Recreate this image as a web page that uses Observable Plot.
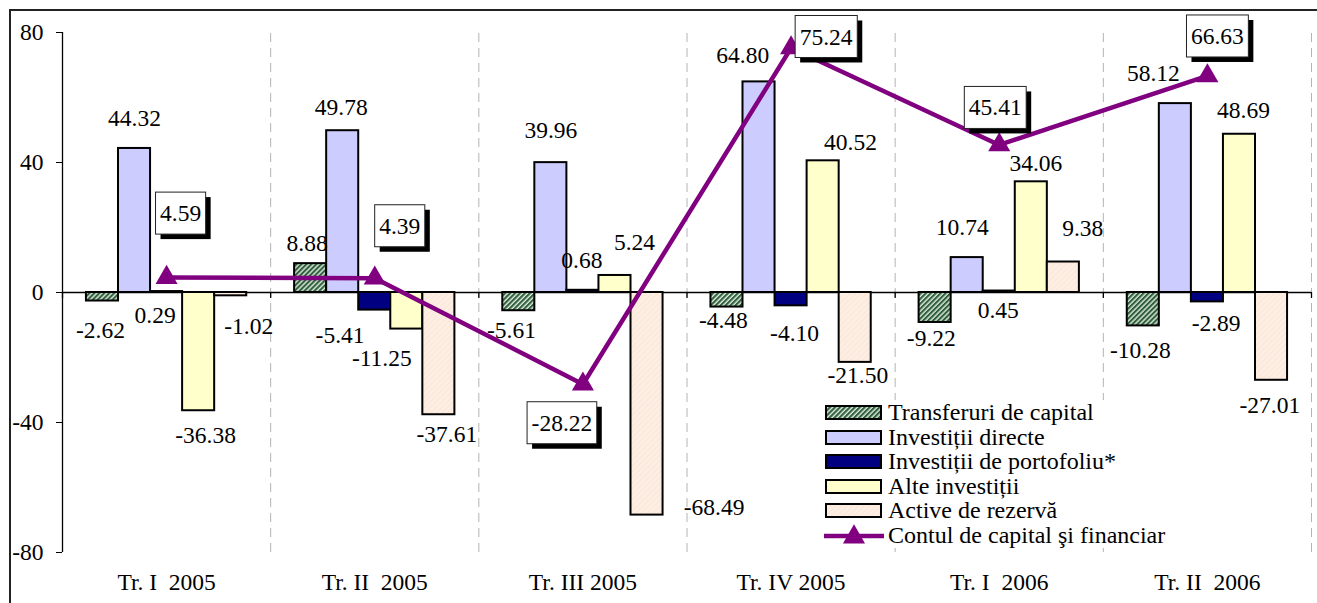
<!DOCTYPE html>
<html>
<head>
<meta charset="utf-8">
<script src="https://cdn.jsdelivr.net/npm/d3@7"></script>
<script src="https://cdn.jsdelivr.net/npm/@observablehq/plot@0.6"></script>
<style>
  body { margin: 0; background: #fff; }
  #wrap { position: relative; width: 1317px; height: 603px; overflow: hidden;
          font-family: "Liberation Serif", "Times New Roman", serif; }
  #frame { position: absolute; left: 9px; top: 9px; width: 2000px; height: 2000px;
           border-left: 2px solid #222; border-top: 2px solid #222; box-sizing: border-box; }
  #chart { position: absolute; left: 0; top: 0; }
  #chart text { font-family: "Liberation Serif", "Times New Roman", serif !important;
                font-variant: normal !important; font-variant-numeric: normal !important; }
  #legend { position: absolute; left: 818px; top: 400px; width: 356px; height: 148px; background: #fff; }
  .row { position: absolute; left: 0; height: 24px; width: 356px; }
  .row svg { position: absolute; top: 0; }
  .row span { position: absolute; left: 70px; top: -3px; font-size: 24px; line-height: 28px; white-space: nowrap; color: #000; }
</style>
</head>
<body>
<svg width="0" height="0" style="position:absolute">
  <defs>
    <pattern id="hatchGreen" width="3.5" height="3.5" patternUnits="userSpaceOnUse" patternTransform="rotate(45)">
      <rect width="3.5" height="3.5" fill="#dfeadf"/>
      <rect width="2.1" height="3.5" fill="#2f5f3b"/>
    </pattern>
    <pattern id="hatchPeach" width="4" height="4" patternUnits="userSpaceOnUse" patternTransform="rotate(45)">
      <rect width="4" height="4" fill="#fdeee3"/>
      <rect width="1" height="4" fill="#fbe6d8"/>
    </pattern>
  </defs>
</svg>
<div id="wrap">
  <div id="frame"></div>
  <div id="chart"></div>
  <div id="legend"></div>
</div>
<script>
// ---------- data ----------
const categories = ["Tr. I\u00a0\u00a02005", "Tr. II\u00a0\u00a02005", "Tr. III 2005", "Tr. IV 2005", "Tr. I\u00a0\u00a02006", "Tr. II\u00a0\u00a02006"];
const seriesNames = ["Transferuri de capital", "Investiții directe", "Investiții de portofoliu*", "Alte investiții", "Active de rezervă"];
const transferuri = [-2.62, 8.88, -5.61, -4.48, -9.22, -10.28];
const directe = [44.32, 49.78, 39.96, 64.80, 10.74, 58.12];
const portofoliu = [0.29, -5.41, 0.68, -4.10, 0.45, -2.89];
const alte = [-36.38, -11.25, 5.24, 40.52, 34.06, 48.69];
const rezerva = [-1.02, -37.61, -68.49, -21.50, 9.38, -27.01];
const lineName = "Contul de capital şi financiar";
const contul = [4.59, 4.39, -28.22, 75.24, 45.41, 66.63];
const yTicks = [-80, -40, 0, 40, 80];

// ---------- style ----------
const fills = ["url(#hatchGreen)", "#ccccff", "#000080", "#ffffcc", "url(#hatchPeach)"];
const purple = "#800080";
const font = "'Liberation Serif', 'Times New Roman', serif";
const fs = 23.5;
// label nudges in px, relative to the bar end (series x quarter)
const labelNudge = [
  [[-2, 29.5], [-3.5, -20.6], [-7.4, 20], [-3.6, 13.4], [-3.8, 16], [-3, 24.6]],
  [[0, -30], [-1.5, -23], [0, -32], [-16.3, -26.4], [-5, -30.4], [-22, -30]],
  [[-11.5, 24], [-34.7, 25.4], [-1, -30], [3.5, 27.7], [-1, 19.5], [8.7, 21.6]],
  [[7, 25], [-25, 29], [19.5, -33.3], [27.3, -18.6], [4.6, -18.3], [4, -23.8]],
  [[18, 31], [8, 20], [67, -8], [2.6, 13], [19.4, -33.5], [-1.7, 25]]
];
const boxNudge = [[14, -64], [25, -52], [-21, 39], [35, -11], [-4, -37], [10, -39.5]];

// ---------- build ----------
const series = [transferuri, directe, portofoliu, alte, rezerva];
const groupInset = 0.115;
const barW = (1 - 2 * groupInset) / series.length;
const rows = [];
series.forEach((vals, k) => vals.forEach((v, i) => rows.push({
  k, i, v,
  x1: i + groupInset + k * barW,
  x2: i + groupInset + (k + 1) * barW
})));
const linePts = contul.map((v, i) => ({ x: i + 0.5, v, i }));
const fmt = v => v.toFixed(2);

const marks = [
  Plot.ruleX(d3.range(1, categories.length + 1), { y1: -80, y2: 80, stroke: "#b4b4b4", strokeDasharray: "9,6" }),
  Plot.ruleY([0], { stroke: "#000", strokeWidth: 1.3 }),
  Plot.ruleX(d3.range(0, categories.length + 1), { y1: 0, y2: 0, insetBottom: -6, stroke: "#000", strokeWidth: 1.3 }),
  Plot.ruleX([0], { y1: -80, y2: 80, stroke: "#000", strokeWidth: 1.3 })
];
series.forEach((vals, k) => {
  marks.push(Plot.rectY(rows.filter(r => r.k === k), {
    x1: "x1", x2: "x2", y1: () => 0, y2: "v",
    fill: fills[k], stroke: "#000", strokeWidth: 2
  }));
});
marks.push(Plot.line(linePts, { x: "x", y: "v", stroke: purple, strokeWidth: 4.5 }));
marks.push(Plot.dot(linePts, { x: "x", y: "v", symbol: "triangle", r: 8.2, fill: purple, stroke: "none" }));
rows.forEach(r => {
  const [dx, dy] = labelNudge[r.k][r.i];
  marks.push(Plot.text([r], {
    x: d => (d.x1 + d.x2) / 2, y: "v", text: d => fmt(d.v),
    dx, dy, fill: "#000", fontSize: fs
  }));
});
linePts.forEach((p, i) => {
  const [dx, dy] = boxNudge[i];
  marks.push(Plot.text([p], {
    x: "x", y: "v", text: d => fmt(d.v), dx, dy, fill: "#010101", fontSize: fs
  }));
});
marks.push(Plot.text(categories, {
  x: (d, i) => i + 0.5, y: () => -80, text: d => d, dy: 30, fill: "#000", fontSize: fs
}));

const chart = Plot.plot({
  width: 1317, height: 603,
  marginLeft: 62, marginRight: 6, marginTop: 32, marginBottom: 51,
  style: { fontFamily: font, fontSize: fs + "px", background: "transparent", color: "#000", overflow: "visible" },
  x: { domain: [0, categories.length], axis: null },
  y: { domain: [-80, 80], ticks: yTicks, tickSize: 6, tickPadding: 13, label: null, tickFormat: d => String(d) },
  marks
});
document.getElementById("chart").append(chart);

// boxed labels for the line: white box with black drop shadow
const boxTexts = new Set(contul.map(fmt));
d3.select(chart).selectAll("g[fill='#010101'] text, text[fill='#010101']").each(function () {
  if (this.__boxed || !boxTexts.has(this.textContent)) return;
  this.__boxed = true;
  const b = this.getBBox();
  const padX = 4.5, h = 42;
  const cy = b.y + b.height / 2;
  const x = b.x - padX, y = cy - h / 2, w = b.width + 2 * padX;
  const tr = this.getAttribute("transform") || "";
  const parent = this.parentNode;
  const ns = "http://www.w3.org/2000/svg";
  const mk = (ox, oy, fill, stroke) => {
    const r = document.createElementNS(ns, "rect");
    r.setAttribute("x", x + ox); r.setAttribute("y", y + oy);
    r.setAttribute("width", w); r.setAttribute("height", h);
    r.setAttribute("fill", fill);
    r.setAttribute("stroke", stroke || "none");
    if (stroke) r.setAttribute("stroke-width", 1);
    if (tr) r.setAttribute("transform", tr);
    parent.insertBefore(r, this);
  };
  mk(5, 5, "#000");
  mk(0, 0, "#fff", "#222");
});

// legend
const legend = d3.select("#legend");
const rowH = 24.5, firstCenter = 13;
seriesNames.forEach((name, k) => {
  const row = legend.append("div").attr("class", "row").style("top", (firstCenter + rowH * k - 12) + "px");
  const s = row.append("svg").attr("width", 60).attr("height", 24).style("left", "7px");
  s.append("rect").attr("x", 1).attr("y", 5).attr("width", 55).attr("height", 13)
    .attr("fill", fills[k]).attr("stroke", "#000").attr("stroke-width", 2);
  row.append("span").text(name);
});
{
  const k = seriesNames.length;
  const row = legend.append("div").attr("class", "row").style("top", (firstCenter + rowH * k - 12) + "px");
  const s = row.append("svg").attr("width", 62).attr("height", 24).style("left", "6px");
  s.append("line").attr("x1", 0).attr("x2", 60).attr("y1", 12).attr("y2", 12).attr("stroke", purple).attr("stroke-width", 4.5);
  s.append("path").attr("d", d3.symbol(d3.symbolTriangle, 8.2 * 8.2 * Math.PI)()).attr("transform", "translate(30,13)").attr("fill", purple);
  row.append("span").text(lineName);
}
</script>
</body>
</html>
